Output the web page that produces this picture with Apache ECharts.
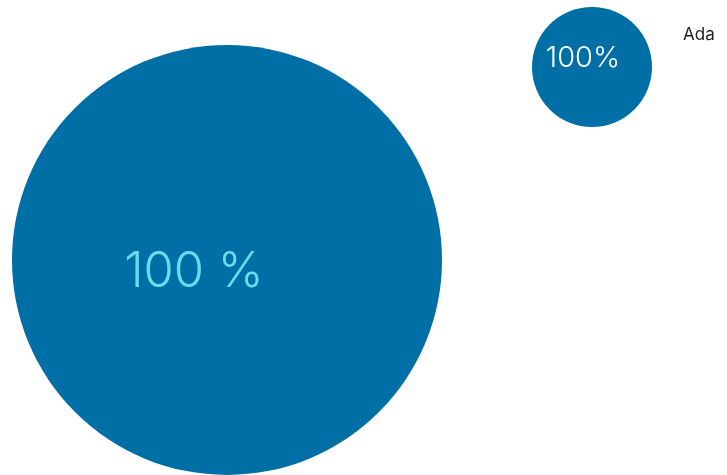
<!DOCTYPE html>
<html>
<head>
<meta charset="utf-8">
<script src="https://cdn.jsdelivr.net/npm/echarts@6/dist/echarts.min.js"></script>
<style>
  html, body { margin: 0; padding: 0; background: #fff; }
  #chart { width: 727px; height: 475px; }
</style>
</head>
<body>
<div id="chart"></div>
<script>
// data
const names = ['Ada'];
const values = [100];

const chart = echarts.init(document.getElementById('chart'));
const pieData = names.map((n, i) => ({ name: n, value: values[i] }));
const blue = '#006fa6';

chart.setOption({
  animation: false,
  color: [blue],
  legend: {
    data: names,
    icon: 'none',
    left: 673,
    top: 21,
    itemWidth: 0,
    textStyle: { fontFamily: 'Inter', fontSize: 17, color: '#222' }
  },
  series: [
    {
      // big one
      type: 'pie',
      center: [227, 260],
      radius: 215,
      data: pieData,
      label: {
        position: 'center',
        formatter: p => Math.round(p.percent) + ' %',
        offset: [-33, 12],
        fontFamily: 'Inter',
        fontSize: 49,
        fontWeight: 300,
        color: '#6adcec'
      },
      labelLine: { show: false },
      emphasis: { disabled: true }
    },
    {
      // small one
      type: 'pie',
      center: [592, 67],
      radius: 60,
      data: pieData,
      label: {
        position: 'center',
        formatter: p => Math.round(p.percent) + '%',
        offset: [-9, -9],
        fontFamily: 'Inter',
        fontSize: 29,
        fontWeight: 300,
        color: '#fff'
      },
      labelLine: { show: false },
      emphasis: { disabled: true }
    }
  ]
});
</script>
</body>
</html>
